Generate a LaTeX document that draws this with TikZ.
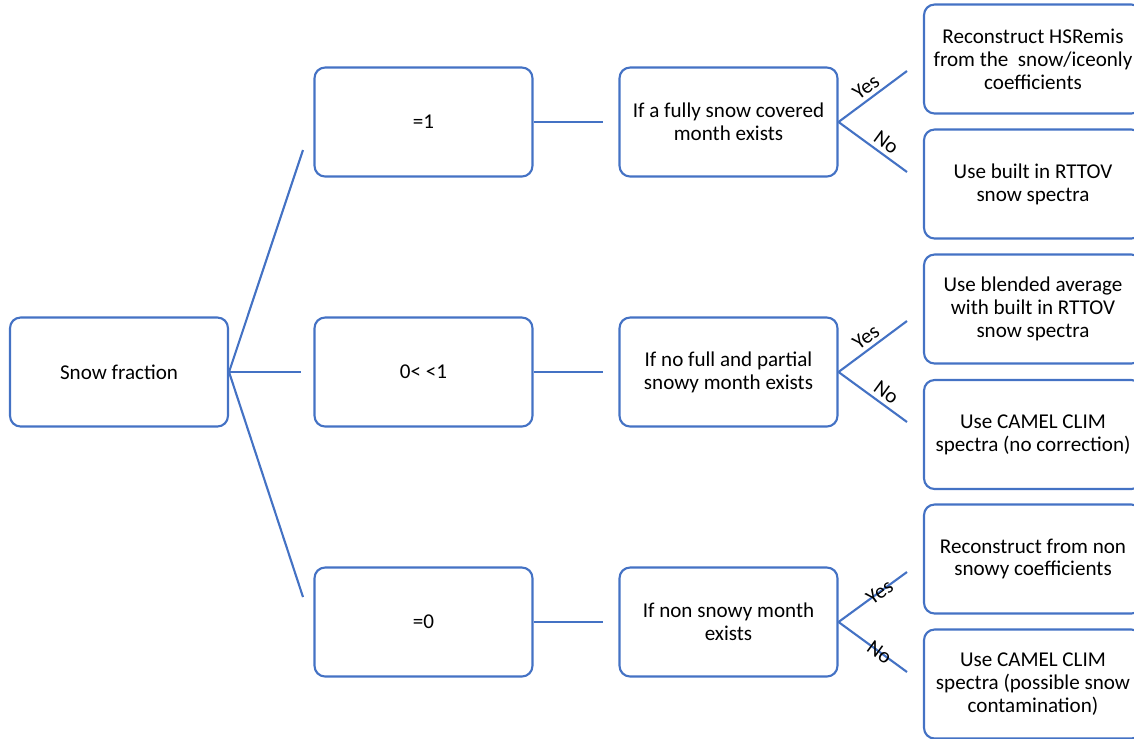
\documentclass[tikz,border=0pt]{standalone}
\usepackage{fontspec}
\setmainfont{Carlito}
\usepackage{xcolor}
\usetikzlibrary{positioning,calc}
\definecolor{boxblue}{RGB}{68,114,196}

\begin{document}
\begin{tikzpicture}[x=0.02cm,y=-0.02cm,
    box/.style={draw=boxblue,line width=1.2pt,rounded corners=6pt,minimum width=4.36cm,minimum height=2.18cm,align=center,font=\fontsize{12}{13}\selectfont},
    link/.style={draw=boxblue,line width=1.2pt},
    lbl/.style={sloped,inner sep=2pt,font=\fontsize{12}{13}\selectfont}]
    \useasboundingbox (0,0) rectangle (1134,738);
    \clip (0,0) rectangle (1134,738);
    % first column
    \node[box] (sf) at (119,372) {Snow fraction};
    % snow fraction classes
    \node[box] (f1) at (423.5,122) {=1};
    \node[box] (f2) at (423.5,372) {0< <1};
    \node[box] (f0) at (423.5,622) {=0};
    % conditions
    \node[box] (q1) at (728.5,122) {If a fully snow covered\\month exists};
    \node[box] (q2) at (728.5,372) {If no full and partial\\snowy month exists};
    \node[box] (q0) at (728.5,622) {If non snowy month\\exists};
    % outcomes
    \node[box] (r1y) at (1033,59) {Reconstruct HSRemis\\from the~ snow/iceonly\\coefficients};
    \node[box] (r1n) at (1033,184) {Use built in RTTOV\\snow spectra};
    \node[box] (r2y) at (1033,309) {Use blended average\\with built in RTTOV\\snow spectra};
    \node[box] (r2n) at (1033,434.5) {Use CAMEL CLIM\\spectra (no correction)};
    \node[box] (r0y) at (1033,559) {Reconstruct from non\\snowy coefficients};
    \node[box] (r0n) at (1033,684) {Use CAMEL CLIM\\spectra (possible snow\\contamination)};
    % free line ends
    \coordinate (e1) at (303,150);
    \coordinate (e2) at (301,372);
    \coordinate (e0) at (303,597);
    \coordinate (g1) at (603,122);
    \coordinate (g2) at (603,372);
    \coordinate (g0) at (603,622);
    \coordinate (y1) at (907,71);
    \coordinate (n1) at (907,172);
    \coordinate (y2) at (907,321);
    \coordinate (n2) at (907,422);
    \coordinate (y0) at (907,572);
    \coordinate (n0) at (907,672);
    % connectors
    \draw[link] (sf.east) -- (e1);
    \draw[link] (sf.east) -- (e2);
    \draw[link] (sf.east) -- (e0);
    \draw[link] (f1.east) -- (g1);
    \draw[link] (f2.east) -- (g2);
    \draw[link] (f0.east) -- (g0);
    \draw[link] (q1.east) -- node[lbl,above,pos=0.5] {Yes} (y1);
    \draw[link] (q1.east) -- node[lbl,above,pos=0.6] {No} (n1);
    \draw[link] (q2.east) -- node[lbl,above,pos=0.5] {Yes} (y2);
    \draw[link] (q2.east) -- node[lbl,above,pos=0.6] {No} (n2);
    \draw[link] (q0.east) -- node[lbl,pos=0.6] {Yes} (y0);
    \draw[link] (q0.east) -- node[lbl,pos=0.6] {No} (n0);
\end{tikzpicture}
\end{document}
